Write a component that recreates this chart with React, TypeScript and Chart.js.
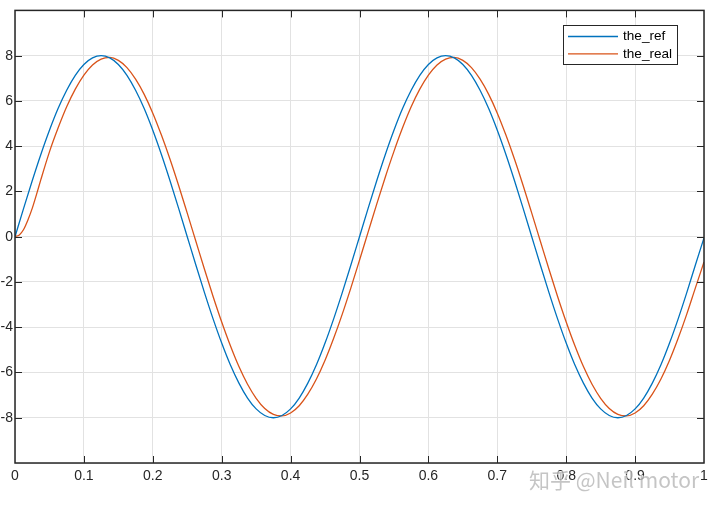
import React, { useEffect, useRef } from "react";
import { Chart, registerables } from "chart.js";

Chart.register(...registerables);

// time samples (s)
const tRef = [
  0, 0.0125, 0.025, 0.0375, 0.05, 0.0625, 0.075, 0.0875, 0.1, 0.1125, 0.125, 0.1375, 0.15, 0.1625, 0.175, 0.1875,
  0.2, 0.2125, 0.225, 0.2375, 0.25, 0.2625, 0.275, 0.2875, 0.3, 0.3125, 0.325, 0.3375, 0.35, 0.3625, 0.375, 0.3875,
  0.4, 0.4125, 0.425, 0.4375, 0.45, 0.4625, 0.475, 0.4875, 0.5, 0.5125, 0.525, 0.5375, 0.55, 0.5625, 0.575, 0.5875,
  0.6, 0.6125, 0.625, 0.6375, 0.65, 0.6625, 0.675, 0.6875, 0.7, 0.7125, 0.725, 0.7375, 0.75, 0.7625, 0.775, 0.7875,
  0.8, 0.8125, 0.825, 0.8375, 0.85, 0.8625, 0.875, 0.8875, 0.9, 0.9125, 0.925, 0.9375, 0.95, 0.9625, 0.975, 0.9875, 1,
];

const theRef = [
  0, 1.25, 2.47, 3.63, 4.7, 5.66, 6.47, 7.13, 7.61, 7.9, 8.0,
  7.9, 7.61, 7.13, 6.47, 5.66, 4.7, 3.63, 2.47, 1.25, 0,
  -1.25, -2.47, -3.63, -4.7, -5.66, -6.47, -7.13, -7.61, -7.9, -8.0,
  -7.9, -7.61, -7.13, -6.47, -5.66, -4.7, -3.63, -2.47, -1.25, 0,
  1.25, 2.47, 3.63, 4.7, 5.66, 6.47, 7.13, 7.61, 7.9, 8.0,
  7.9, 7.61, 7.13, 6.47, 5.66, 4.7, 3.63, 2.47, 1.25, 0,
  -1.25, -2.47, -3.63, -4.7, -5.66, -6.47, -7.13, -7.61, -7.9, -8.0,
  -7.9, -7.61, -7.13, -6.47, -5.66, -4.7, -3.63, -2.47, -1.25, -0.05,
];

const tReal = [
  0, 0.00625, 0.0125, 0.01875, 0.025, 0.03125, 0.0375, 0.05, 0.0625, 0.075, 0.0875, 0.1, 0.1125, 0.125, 0.1375, 0.15,
  0.1625, 0.175, 0.1875,
  0.2, 0.2125, 0.225, 0.2375, 0.25, 0.2625, 0.275, 0.2875, 0.3, 0.3125, 0.325, 0.3375, 0.35, 0.3625, 0.375, 0.3875,
  0.4, 0.4125, 0.425, 0.4375, 0.45, 0.4625, 0.475, 0.4875, 0.5, 0.5125, 0.525, 0.5375, 0.55, 0.5625, 0.575, 0.5875,
  0.6, 0.6125, 0.625, 0.6375, 0.65, 0.6625, 0.675, 0.6875, 0.7, 0.7125, 0.725, 0.7375, 0.75, 0.7625, 0.775, 0.7875,
  0.8, 0.8125, 0.825, 0.8375, 0.85, 0.8625, 0.875, 0.8875, 0.9, 0.9125, 0.925, 0.9375, 0.95, 0.9625, 0.975, 0.9875, 1,
];

const theReal = [
  0, 0.08, 0.32, 0.74, 1.25, 1.87, 2.52,
  3.75, 4.8, 5.74, 6.52, 7.14, 7.59, 7.85, 7.92,
  7.79, 7.47, 6.96, 6.29, 5.46, 4.49, 3.42, 2.26, 1.04,
  -0.2, -1.44, -2.64,
  -3.77, -4.81, -5.74, -6.52, -7.14, -7.59, -7.85, -7.92,
  -7.79, -7.47, -6.96, -6.29, -5.46, -4.49, -3.42, -2.26, -1.04,
  0.2, 1.44, 2.64,
  3.77, 4.81, 5.74, 6.52, 7.14, 7.59, 7.85, 7.92,
  7.79, 7.47, 6.96, 6.29, 5.46, 4.49, 3.42, 2.26, 1.04,
  -0.2, -1.44, -2.64,
  -3.77, -4.81, -5.74, -6.52, -7.14, -7.59, -7.85, -7.92,
  -7.79, -7.47, -6.96, -6.29, -5.46, -4.49, -3.42, -2.26, -1.12,
];

const seriesNames = ["the_ref", "the_real"];
const seriesColors = ["#0072BD", "#D95319"];
const watermark = "知乎 @Neil motor";

const FONT = "'Liberation Sans', Arial, Helvetica, sans-serif";
const AXIS_COLOR = "#262626";

const framePlugin = {
  id: "matlabFrame",
  afterDraw(chart: any) {
    const { ctx, chartArea } = chart;
    const { left, right, top, bottom } = chartArea;
    const xs = chart.scales.x;
    const ys = chart.scales.y;
    ctx.save();
    // box
    ctx.strokeStyle = AXIS_COLOR;
    ctx.lineWidth = 1.5;
    ctx.strokeRect(left, top, right - left, bottom - top);
    // inner ticks
    ctx.lineWidth = 1;
    const TL = 7;
    ctx.beginPath();
    xs.ticks.forEach((t: any) => {
      if (t.value <= xs.min + 1e-9 || t.value >= xs.max - 1e-9) return;
      const px = Math.round(xs.getPixelForValue(t.value)) + 0.5;
      ctx.moveTo(px, bottom);
      ctx.lineTo(px, bottom - TL);
      ctx.moveTo(px, top);
      ctx.lineTo(px, top + TL);
    });
    ys.ticks.forEach((t: any) => {
      if (t.value <= ys.min + 1e-9 || t.value >= ys.max - 1e-9) return;
      const py = Math.round(ys.getPixelForValue(t.value)) + 0.5;
      ctx.moveTo(left, py);
      ctx.lineTo(left + TL, py);
      ctx.moveTo(right, py);
      ctx.lineTo(right - TL, py);
    });
    ctx.stroke();

    // legend (inside, top-right)
    const lx = 563;
    const ly = 25;
    const lw = 114;
    const lh = 39;
    ctx.fillStyle = "#ffffff";
    ctx.fillRect(lx, ly, lw, lh);
    ctx.strokeStyle = AXIS_COLOR;
    ctx.lineWidth = 1;
    ctx.strokeRect(lx + 0.5, ly + 0.5, lw, lh);
    ctx.font = `13.6px ${FONT}`;
    ctx.textBaseline = "middle";
    ctx.textAlign = "left";
    chart.data.datasets.forEach((ds: any, i: number) => {
      const y = ly + 11.5 + i * 17.3;
      ctx.strokeStyle = ds.borderColor;
      ctx.lineWidth = 1.3;
      ctx.beginPath();
      ctx.moveTo(lx + 5, y);
      ctx.lineTo(lx + 55, y);
      ctx.stroke();
      ctx.fillStyle = "#000000";
      ctx.fillText(ds.label, lx + 60, y);
    });

    // watermark
    ctx.font = `21px 'Noto Sans CJK SC', ${FONT}`;
    ctx.textBaseline = "alphabetic";
    ctx.textAlign = "left";
    ctx.lineWidth = 2;
    ctx.strokeStyle = "rgba(255,255,255,0.6)";
    ctx.strokeText(watermark, 529, 488);
    ctx.fillStyle = "rgba(150,150,150,0.55)";
    ctx.fillText(watermark, 529, 488);
    ctx.restore();
  },
};

export default function App() {
  const canvasRef = useRef<HTMLCanvasElement | null>(null);

  useEffect(() => {
    document.body.style.margin = "0";
    const canvas = canvasRef.current;
    if (!canvas) return;
    const chart = new Chart(canvas, {
      type: "line",
      data: {
        datasets: [
          {
            label: seriesNames[0],
            data: tRef.map((t, i) => ({ x: t, y: theRef[i] })),
            borderColor: seriesColors[0],
            backgroundColor: seriesColors[0],
            borderWidth: 1.3,
            pointRadius: 0,
            cubicInterpolationMode: "monotone",
            fill: false,
          },
          {
            label: seriesNames[1],
            data: tReal.map((t, i) => ({ x: t, y: theReal[i] })),
            borderColor: seriesColors[1],
            backgroundColor: seriesColors[1],
            borderWidth: 1.3,
            pointRadius: 0,
            cubicInterpolationMode: "monotone",
            fill: false,
          },
        ],
      },
      options: {
        responsive: false,
        devicePixelRatio: 1,
        animation: false,
        layout: { padding: { top: 10, right: 16, left: 0, bottom: 0 } },
        plugins: {
          legend: { display: false },
          tooltip: { enabled: false },
        },
        scales: {
          x: {
            type: "linear",
            min: 0,
            max: 1,
            afterFit: (s: any) => {
              s.height = 46;
            },
            border: { display: false },
            grid: { color: "#e2e2e2", lineWidth: 1, drawTicks: false },
            ticks: {
              stepSize: 0.1,
              autoSkip: false,
              maxRotation: 0,
              padding: 5,
              color: AXIS_COLOR,
              font: { family: FONT, size: 14 },
              callback: (v: any) => String(Number(Number(v).toFixed(1))),
            },
          },
          y: {
            type: "linear",
            min: -10,
            max: 10,
            afterFit: (s: any) => {
              s.width = 15;
            },
            border: { display: false },
            grid: { color: "#e2e2e2", lineWidth: 1, drawTicks: false },
            ticks: {
              stepSize: 2,
              padding: 2,
              color: AXIS_COLOR,
              font: { family: FONT, size: 14 },
              callback: (v: any) => (Math.abs(Number(v)) >= 10 ? "" : String(v)),
            },
          },
        },
      },
      plugins: [framePlugin],
    } as any);
    return () => chart.destroy();
  }, []);

  return (
    <div style={{ width: 720, height: 509 }}>
      <canvas ref={canvasRef} width={720} height={509} style={{ display: "block" }} />
    </div>
  );
}
